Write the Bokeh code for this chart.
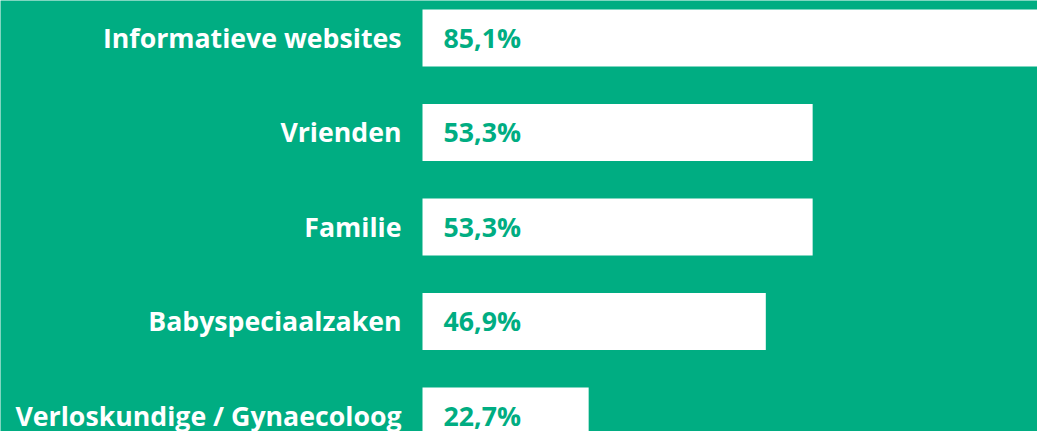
from bokeh.plotting import figure
from bokeh.models import Range1d, ColumnDataSource
from bokeh.core.properties import value
from bokeh.embed import file_html
from bokeh.resources import INLINE

categories = ["Informatieve websites", "Vrienden", "Familie", "Babyspeciaalzaken", "Verloskundige / Gynaecoloog"]
values = [85.1, 53.3, 53.3, 46.9, 22.7]
value_labels = ["85,1%", "53,3%", "53,3%", "46,9%", "22,7%"]

GREEN = "#00AD82"
W, H = 1037, 431
px_per_pct = 7.32
bar_left_px = 422
row_px = 94.5
first_center_px = 37.5

src = ColumnDataSource(dict(
    y=list(range(len(categories))),
    cat=categories,
    val=values,
    lab=value_labels,
))

p = figure(width=W, height=H, output_backend="svg", toolbar_location=None,
           x_range=Range1d(-bar_left_px / px_per_pct, (W - bar_left_px) / px_per_pct),
           y_range=Range1d((H - first_center_px) / row_px, -first_center_px / row_px),
           min_border=0, min_border_left=0, min_border_right=0, min_border_top=0, min_border_bottom=0)
p.axis.visible = False
p.grid.visible = False
p.outline_line_color = None
p.background_fill_color = GREEN
p.border_fill_color = GREEN

p.hbar(y="y", left=0, right="val", height=57 / row_px, source=src, fill_color="white", line_color=None)

p.text(x=0, y="y", text="cat", source=src, x_offset=-21, y_offset=-1, text_align="right",
       text_baseline="middle",
       text_font=value("Open Sans"), text_font_style="bold", text_font_size="26.7px", text_color="white")
p.text(x=0, y="y", text="lab", source=src, x_offset=21, y_offset=-1, text_align="left",
       text_baseline="middle",
       text_font=value("Open Sans"), text_font_style="bold", text_font_size="26.7px", text_color=GREEN)

open("out.html", "w").write(file_html(p, INLINE))
